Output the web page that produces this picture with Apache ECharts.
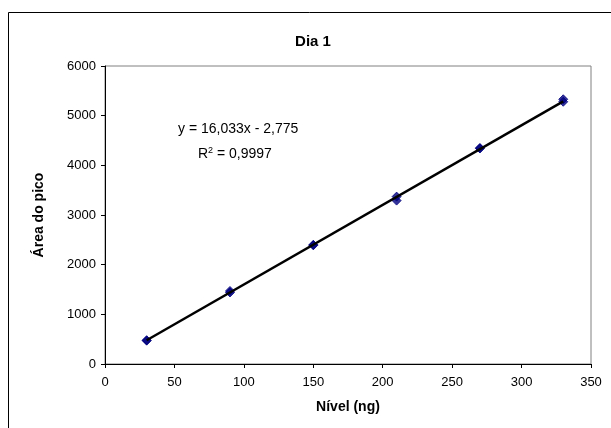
<!DOCTYPE html>
<html>
<head>
<meta charset="utf-8">
<script src="https://cdn.jsdelivr.net/npm/echarts@6/dist/echarts.min.js"></script>
<style>html,body{margin:0;padding:0;background:#fff;}#c{width:611px;height:428px;}</style>
</head>
<body>
<div id="c"></div>
<script>
const titleText = 'Dia 1';
const xName = 'Nível (ng)';
const yName = 'Área do pico';
const niveis = [30, 30, 90, 90, 150, 150, 210, 210, 270, 270, 330, 330];
const areas = [480, 470, 1440, 1470, 2400, 2390, 3290, 3370, 4350, 4340, 5280, 5330];
const trendX = [30, 330];
const trendY = [478.2, 5288.1];
const eqLine1 = 'y = 16,033x - 2,775';
const eqLine2 = 'R{s|2} = 0,9997';

const chart = echarts.init(document.getElementById('c'));
const font = 'Liberation Sans, Arial, sans-serif';
chart.setOption({
  animation: false,
  backgroundColor: '#fff',
  title: {
    text: titleText, left: 308, top: 29, textAlign: 'center',
    textStyle: {fontFamily: font, fontSize: 15, fontWeight: 'bold', color: '#000'}
  },
  grid: {left: 105, right: 20, top: 66, bottom: 64, show: true, borderColor: '#808080', borderWidth: 1, backgroundColor: 'transparent'},
  xAxis: {
    type: 'value', min: 0, max: 350, interval: 50,
    name: xName, nameLocation: 'middle', nameGap: 36,
    nameTextStyle: {fontFamily: font, fontSize: 14, fontWeight: 'bold', color: '#000'},
    axisLine: {show: true, lineStyle: {color: '#000', width: 1}},
    axisTick: {show: true, length: 4, lineStyle: {color: '#000'}},
    axisLabel: {fontFamily: font, fontSize: 13, color: '#000', margin: 12},
    splitLine: {show: false}
  },
  yAxis: {
    type: 'value', min: 0, max: 6000, interval: 1000,
    name: yName, nameLocation: 'middle', nameGap: 59,
    nameTextStyle: {fontFamily: font, fontSize: 14, fontWeight: 'bold', color: '#000'},
    axisLine: {show: true, lineStyle: {color: '#000', width: 1}},
    axisTick: {show: true, length: 4, lineStyle: {color: '#000'}},
    axisLabel: {fontFamily: font, fontSize: 13, color: '#000', margin: 9, formatter: v => String(v)},
    splitLine: {show: false}
  },
  graphic: [
    {type: 'line', shape: {x1: 8.5, y1: 12.5, x2: 611, y2: 12.5}, style: {stroke: '#000', lineWidth: 1}},
    {type: 'line', shape: {x1: 8.5, y1: 12.5, x2: 8.5, y2: 428}, style: {stroke: '#000', lineWidth: 1}},
    {type: 'text', left: 178, top: 122, style: {text: eqLine1, font: '14px ' + font, fill: '#000'}},
    {type: 'text', left: 198, top: 146, style: {text: eqLine2, font: '14px ' + font, fill: '#000',
      rich: {s: {fontSize: 9, verticalAlign: 'top', padding: [0, 0, 8, 0], fontFamily: font}}}}
  ],
  series: [
    {
      type: 'line', data: trendX.map((x, i) => [x, trendY[i]]), symbol: 'none',
      lineStyle: {color: '#000', width: 2.5}, z: 3
    },
    {
      type: 'scatter', data: niveis.map((x, i) => [x, areas[i]]), symbol: 'diamond', symbolSize: 9,
      itemStyle: {color: '#000080', borderColor: '#000080'}, z: 2
    }
  ]
});
</script>
</body>
</html>
